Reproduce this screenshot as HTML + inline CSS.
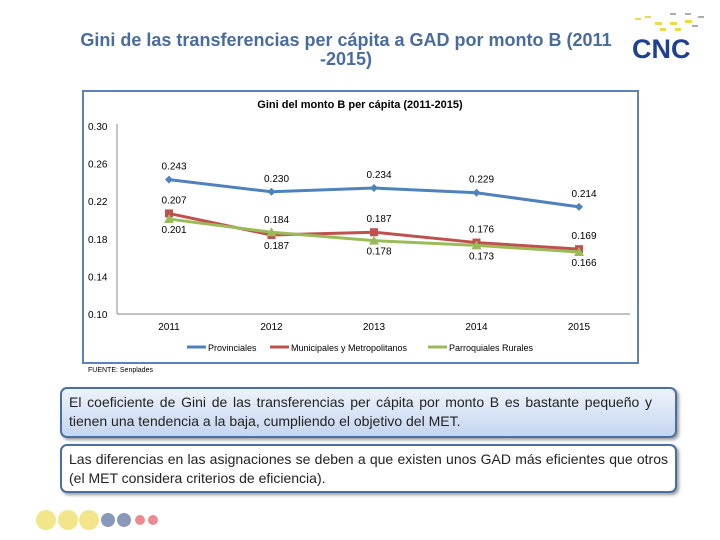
<!DOCTYPE html>
<html><head><meta charset="utf-8"><style>
body{margin:0;width:720px;height:540px;background:#fff;position:relative;overflow:hidden;font-family:"Liberation Sans",sans-serif}
.t{position:absolute;left:40px;width:612px;top:31px;text-align:center;color:#4a6c9c;font-weight:bold;font-size:18px;line-height:19px}
.box{position:absolute;left:60px;width:599px;border:2px solid #4a6fa5;border-radius:7px;padding:4px 7px;font-size:14px;line-height:19px;color:#222;box-shadow:2px 2px 3px #999;text-align:justify}
</style></head><body>
<div class="t">Gini de las transferencias per cápita a GAD por monto B (2011<br>-2015)</div>
<div style="position:absolute;left:630px;top:10px;width:85px;height:55px">
<svg width="85" height="55"><g fill="#f0d84a"><rect x="5" y="8" width="6" height="2"/><rect x="15" y="6" width="6" height="2"/><rect x="25" y="12" width="7" height="3"/><rect x="40" y="12" width="7" height="3"/><rect x="55" y="10" width="7" height="3"/><rect x="30" y="18" width="6" height="3"/><rect x="45" y="18" width="6" height="3"/></g><g fill="#aab"><rect x="40" y="3" width="6" height="2"/><rect x="55" y="3" width="6" height="2"/><rect x="68" y="6" width="6" height="2"/><rect x="62" y="15" width="6" height="2"/></g>
<text x="2" y="48" font-family="Liberation Sans" font-weight="bold" font-size="27" fill="#1f3f8f">CNC</text></svg></div>
<svg width="720" height="540" style="position:absolute;left:0;top:0" id="ch">
<rect x="83" y="91" width="555" height="272" fill="#fff" stroke="#5e82b8" stroke-width="2"/>
<text x="360" y="108" text-anchor="middle" font-size="11" font-weight="bold" fill="#000">Gini del monto B per cápita (2011-2015)</text>
<line x1="117" y1="124" x2="117" y2="314" stroke="#888"/>
<line x1="117" y1="314" x2="630" y2="314" stroke="#888"/>
<g id="g"></g>
<text x="88" y="372" font-size="7">FUENTE: Senplades</text>
</svg>
<div class="box" style="top:387px;height:39px;width:583px;padding-right:23px;background:linear-gradient(#eef3fb,#c5d6f0)">El coeficiente de Gini de las transferencias per cápita por monto B es bastante pequeño y tienen una tendencia a la baja, cumpliendo el objetivo del MET.</div>
<div class="box" style="top:444px;height:37px;background:#fff">Las diferencias en las asignaciones se deben a que existen unos GAD más eficientes que otros (el MET considera criterios de eficiencia).</div>
<svg width="180" height="40" style="position:absolute;left:30px;top:500px">
<circle cx="16" cy="20" r="10" fill="#f2e58a"/><circle cx="38" cy="20" r="10" fill="#f2e58a"/><circle cx="59" cy="20" r="10" fill="#f2e58a"/><circle cx="78" cy="20" r="7" fill="#8a98bb"/><circle cx="94" cy="20" r="7" fill="#8a98bb"/><circle cx="110" cy="20" r="5" fill="#ec8a92"/><circle cx="123" cy="20" r="5" fill="#ec8a92"/></svg>
<script>
const years=["2011","2012","2013","2014","2015"];
const prov=[0.243,0.230,0.234,0.229,0.214];
const muni=[0.207,0.184,0.187,0.176,0.169];
const parr=[0.201,0.187,0.178,0.173,0.166];
const yTicks=[0.30,0.26,0.22,0.18,0.14,0.10];
const NS="http://www.w3.org/2000/svg";const g=document.getElementById('g');
const X=i=>169+i*102.5, Y=v=>314-(v-0.10)/0.20*188;
function el(t,a,txt){const e=document.createElementNS(NS,t);for(const k in a)e.setAttribute(k,a[k]);if(txt!=null)e.textContent=txt;g.appendChild(e);return e;}
yTicks.forEach(v=>{const e=el('text',{x:88,y:Y(v)+4,'font-size':10},v.toFixed(2));

});
years.forEach((y,i)=>{const e=el('text',{x:X(i),y:330,'font-size':10,'text-anchor':'middle'},y);

});
const series=[[prov,'#4f81bd','d','provinciales',-10],[muni,'#c0504d','s','municipales',-10],[parr,'#9bbb59','t','parroquiales',14]];
series.forEach(([d,c,m,n,off],si)=>{
 const p=el('polyline',{points:d.map((v,i)=>X(i)+','+Y(v)).join(' '),fill:'none',stroke:c,'stroke-width':3});
 
 
 d.forEach((v,i)=>{let mk;const x=X(i),y=Y(v);
  if(m=='d')mk=el('polygon',{points:`${x},${y-4} ${x+4},${y} ${x},${y+4} ${x-4},${y}`,fill:c});
  else if(m=='s')mk=el('rect',{x:x-4,y:y-4,width:8,height:8,fill:c});
  else mk=el('polygon',{points:`${x},${y-5} ${x+5},${y+4} ${x-5},${y+4}`,fill:c});
  
  
  let o=off; if(si==1&&i==1){o=-12} if(si==2&&i==1){o=17}
  const lab=el('text',{x:x+5,y:y+o,'font-size':10,'text-anchor':'middle'},v.toFixed(3));
  
  
 });
});
const leg=[['Provinciales','#4f81bd',187],['Municipales y Metropolitanos','#c0504d',270],['Parroquiales Rurales','#9bbb59',428]];
leg.forEach(([t,c,x])=>{const l=el('line',{x1:x,y1:347,x2:x+19,y2:347,stroke:c,'stroke-width':3});


const e=el('text',{x:x+21,y:351,'font-size':9},t);

});
</script>
</body></html>
